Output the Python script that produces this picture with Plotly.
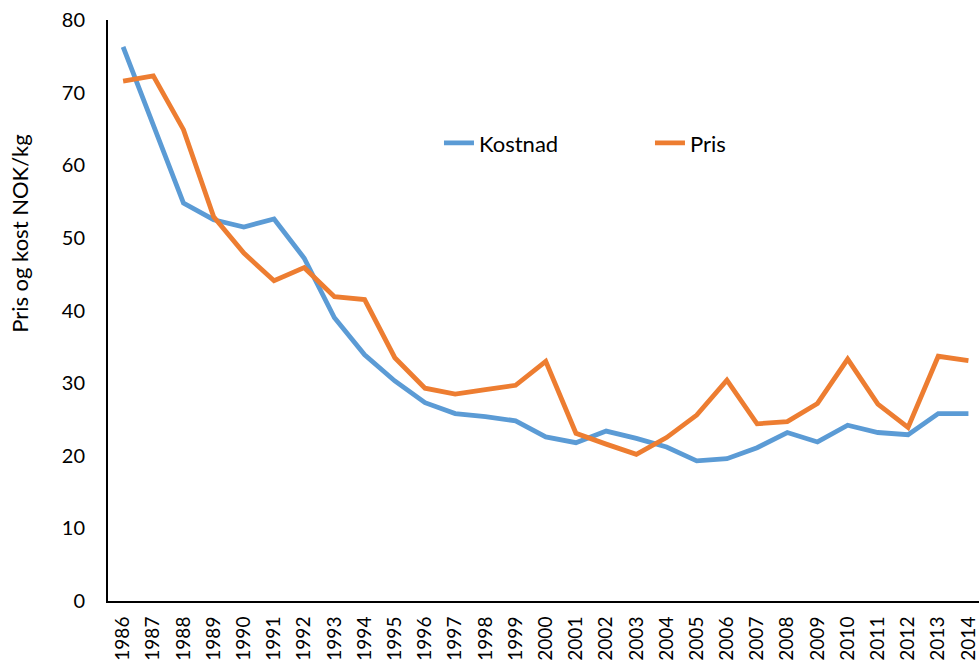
import plotly.graph_objects as go

years = list(range(1986, 2015))
kostnad = [76.3, 65.5, 54.8, 52.5, 51.5, 52.6, 47.2, 39.0, 33.9, 30.3,
           27.3, 25.8, 25.4, 24.8, 22.6, 21.8, 23.4, 22.4, 21.2, 19.3,
           19.6, 21.1, 23.2, 21.9, 24.2, 23.2, 22.9, 25.8, 25.8]
pris = [71.6, 72.3, 64.9, 52.9, 47.9, 44.1, 45.9, 41.9, 41.5, 33.5,
        29.3, 28.5, 29.1, 29.7, 33.0, 23.1, 21.6, 20.2, 22.5, 25.6,
        30.4, 24.4, 24.7, 27.2, 33.3, 27.1, 23.9, 33.7, 33.1]
y_ticks = [0, 10, 20, 30, 40, 50, 60, 70, 80]
y_title = "Pris og kost NOK/kg"

font = "Lato, 'Open Sans', sans-serif"

fig = go.Figure()
fig.add_trace(go.Scatter(x=years, y=kostnad, mode="lines", name="Kostnad",
                         line=dict(color="#5B9BD5", width=4.8)))
fig.add_trace(go.Scatter(x=years, y=pris, mode="lines", name="Pris",
                         line=dict(color="#ED7D31", width=4.8)))

fig.add_annotation(text=y_title, xref="paper", yref="paper",
                   x=-0.101, y=0.632, xanchor="center", yanchor="middle",
                   textangle=-90, showarrow=False, font=dict(size=22))

fig.update_layout(
    width=979, height=664,
    margin=dict(l=108, r=0, t=20, b=63),
    paper_bgcolor="white", plot_bgcolor="white",
    font=dict(family=font, size=19, color="black"),
    showlegend=True,
    legend=dict(orientation="h", x=0.38, y=0.788, xanchor="left", yanchor="middle",
                bgcolor="rgba(0,0,0,0)", font=dict(size=22),
                entrywidth=166, entrywidthmode="pixels"),
    xaxis=dict(range=[1985.5, 2014.35], tickmode="array", tickvals=years,
               ticktext=[str(y) for y in years], tickangle=-90,
               showline=True, linecolor="black", linewidth=2,
               showgrid=False, zeroline=False, ticks="", automargin=False,
               ticklabeloverflow="allow", ticklabelstandoff=6,
               tickfont=dict(size=19)),
    yaxis=dict(range=[0, 80], tickmode="array", tickvals=y_ticks,
               showline=True, linecolor="black", linewidth=2,
               showgrid=False, zeroline=False, ticks="", automargin=False,
               ticklabelstandoff=17, tickfont=dict(size=20)),
)

fig.write_html("out.html", config={"displayModeBar": False},
               post_script="document.body.style.margin='0';")
